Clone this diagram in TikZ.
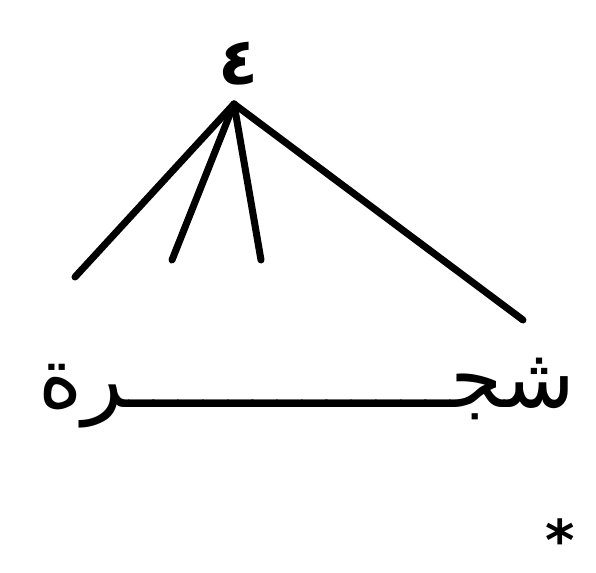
\documentclass[tikz,border=0pt]{standalone}
\usepackage{fontspec}
\newfontfamily\arabicfont[Script=Arabic]{DejaVu Sans}
\TeXXeTstate=1
\tikzset{branch/.style={line width=6pt, line cap=round}}

\begin{document}
\begin{tikzpicture}[x=0.03cm, y=-0.03cm]
	\useasboundingbox (0,0) rectangle (596,573);
	\node (root) at (239,64) {\arabicfont\bfseries\fontsize{56}{60}\selectfont\beginR ٤\endR};
	\coordinate (apex) at (234,104);
	\coordinate (b1) at (75,277);
	\coordinate (b2) at (172,260);
	\coordinate (b3) at (261,260);
	\coordinate (b4) at (523,320);
	\draw[branch] (apex) -- (b1);
	\draw[branch] (apex) -- (b2);
	\draw[branch] (apex) -- (b3);
	\draw[branch] (apex) -- (b4);
	\node (word) at (307,393) {\arabicfont\fontsize{72}{80}\selectfont\beginR شجـــــــــــــرة\endR};
	\node (star) at (560,540) {\arabicfont\bfseries\fontsize{48}{50}\selectfont *};
\end{tikzpicture}
\end{document}
